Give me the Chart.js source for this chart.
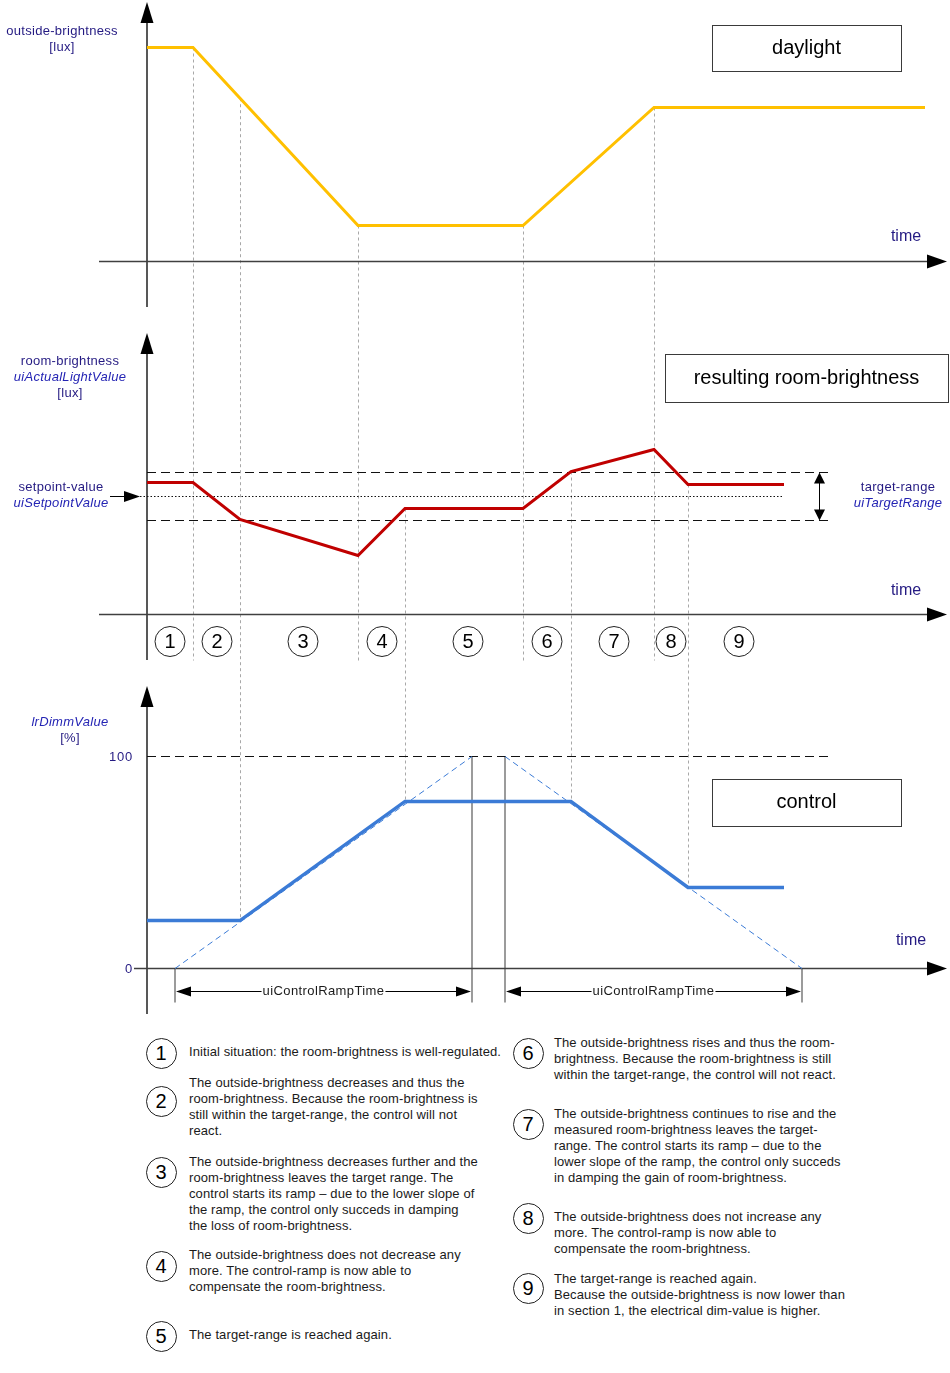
<!DOCTYPE html>
<html><head><meta charset="utf-8">
<script src="https://cdn.jsdelivr.net/npm/chart.js@4.4.0/dist/chart.umd.min.js"></script>
<style>
html,body{margin:0;padding:0;background:#fff;}
body{width:950px;height:1373px;position:relative;overflow:hidden;font-family:"Liberation Sans",Arial,sans-serif;}
#c{position:absolute;left:0;top:0;}
.num{position:absolute;width:31px;height:31px;box-sizing:border-box;border:1px solid #222;border-radius:50%;text-align:center;line-height:29px;font-size:20px;color:#000;}
.txt{position:absolute;font-size:13px;line-height:16px;color:#1a1a1a;white-space:nowrap;letter-spacing:0.1px;}
</style></head><body>
<canvas id="c" width="950" height="1020"></canvas>
<div id="notes"></div>
<script>
// ---------------- data ----------------
const outsideT   = [0, 46, 211, 376, 507, 778];
const outsideLux = [214, 214, 36, 36, 154, 154];
const roomT      = [0, 46, 93, 211, 258, 376, 424, 507, 541, 637];
const roomLux    = [132, 132, 95, 59, 106, 106, 143, 165, 130, 130];
const controlT   = [0, 93, 258, 424, 541, 637];
const controlPct = [22.6, 22.6, 78.8, 78.8, 38.2, 38.2];
const rampUpT    = [28, 325];
const rampUpPct  = [0, 100];
const rampDownT  = [358, 655];
const rampDownPct= [100, 0];
const setpointLux = 118;
const targetRangeLux = [94, 142];
const rangeEndT = 684;
const dimTicks = [0, 100];
const sectionBounds = [46, 93, 211, 258, 376, 424, 507, 541];
const sectionLabels = ['1','2','3','4','5','6','7','8','9'];
const sectionLabelT = [23, 70, 156, 235, 321, 400, 467, 524, 592];
const noteLines = [
  ['Initial situation: the room-brightness is well-regulated.'],
  ['The outside-brightness decreases and thus the','room-brightness. Because the room-brightness is','still within the target-range, the control will not','react.'],
  ['The outside-brightness decreases further and the','room-brightness leaves the target range. The','control starts its ramp \u2013 due to the lower slope of','the ramp, the control only succeds in damping','the loss of room-brightness.'],
  ['The outside-brightness does not decrease any','more. The control-ramp is now able to','compensate the room-brightness.'],
  ['The target-range is reached again.'],
  ['The outside-brightness rises and thus the room-','brightness. Because the room-brightness is still','within the target-range, the control will not react.'],
  ['The outside-brightness continues to rise and the','measured room-brightness leaves the target-','range. The control starts its ramp \u2013 due to the','lower slope of the ramp, the control only succeds','in damping the gain of room-brightness.'],
  ['The outside-brightness does not increase any','more. The control-ramp is now able to','compensate the room-brightness.'],
  ['The target-range is reached again.','Because the outside-brightness is now lower than','in section 1, the electrical dim-value is higher.']
];

// ---------------- layout ----------------
const H = 1020;
function yRange(zeroPx, pxPerUnit){ return {min: -(H - zeroPx) / pxPerUnit, max: zeroPx / pxPerUnit}; }
const rOut = yRange(261.5, 1), rRoom = yRange(614.5, 1), rCtl = yRange(968.5, 2.12);
const pts = (ts, vs) => ts.map((t, i) => ({x: t, y: vs[i]}));
function interp(ts, vs, t){
  for (let i = 0; i < ts.length - 1; i++) {
    if (t >= ts[i] && t <= ts[i+1]) return vs[i] + (vs[i+1]-vs[i]) * (t-ts[i]) / (ts[i+1]-ts[i]);
  }
  return vs[vs.length-1];
}
const NAVY = '#241a82', BLUE_IT = '#2424b4';
const FONT = '"Liberation Sans", Arial, sans-serif';

function arrowHead(ctx, tx, ty, dx, dy, len, hw){
  const bx = tx - dx*len, by = ty - dy*len;
  ctx.beginPath();
  ctx.moveTo(tx, ty);
  ctx.lineTo(bx - dy*hw, by + dx*hw);
  ctx.lineTo(bx + dy*hw, by - dx*hw);
  ctx.closePath(); ctx.fill();
}
function line(ctx, x1, y1, x2, y2){ ctx.beginPath(); ctx.moveTo(x1,y1); ctx.lineTo(x2,y2); ctx.stroke(); }
function txt(ctx, s, x, y, font, color, align, spacing){
  ctx.font = font; ctx.fillStyle = color; ctx.textAlign = align || 'center'; ctx.textBaseline = 'middle';
  ctx.letterSpacing = spacing || '0.3px';
  ctx.fillText(s, x, y);
  ctx.letterSpacing = '0px';
}
function box(ctx, x1, y1, x2, y2, label){
  ctx.save();
  ctx.fillStyle = '#fff'; ctx.fillRect(x1, y1, x2-x1, y2-y1);
  ctx.strokeStyle = '#3a3a3a'; ctx.lineWidth = 1; ctx.setLineDash([]);
  ctx.strokeRect(x1+0.5, y1+0.5, x2-x1, y2-y1);
  txt(ctx, label, (x1+x2)/2, (y1+y2)/2, '20px ' + FONT, '#000', 'center', '0px');
  ctx.restore();
}
function circ(ctx, cx, cy, label){
  ctx.save(); ctx.strokeStyle = '#222'; ctx.lineWidth = 1; ctx.setLineDash([]);
  ctx.beginPath(); ctx.arc(cx, cy, 15, 0, Math.PI*2); ctx.stroke();
  txt(ctx, label, cx, cy+1, '20px ' + FONT, '#000', 'center', '0px');
  ctx.restore();
}

const boundTop = ['o','o','o','r','o','r','o','r'];

const deco = {
  id: 'deco',
  beforeDatasetsDraw(chart){
    const ctx = chart.ctx, X = chart.scales.x, yO = chart.scales.yOut, yR = chart.scales.yRoom, yC = chart.scales.yCtl;
    ctx.save();
    // section boundaries (grey dotted)
    ctx.strokeStyle = '#a8a8a8'; ctx.lineWidth = 1; ctx.setLineDash([3,3]);
    sectionBounds.forEach((t, i) => {
      const px = Math.round(X.getPixelForValue(t)) + 0.5;
      const top = boundTop[i] === 'o' ? yO.getPixelForValue(interp(outsideT, outsideLux, t))
                                        : yR.getPixelForValue(interp(roomT, roomLux, t));
      const bottom = controlT.includes(t) ? yC.getPixelForValue(interp(controlT, controlPct, t))
                                           : yR.getPixelForValue(0) + 46;
      line(ctx, px, top, px, bottom);
    });
    ctx.setLineDash([]);
    // ramp markers
    ctx.strokeStyle = '#7a7a7a'; ctx.lineWidth = 1.5;
    const zc = yC.getPixelForValue(0);
    [[rampUpT[0], rampUpPct[0]], [rampUpT[1], rampUpPct[1]], [rampDownT[0], rampDownPct[0]], [rampDownT[1], rampDownPct[1]]].forEach(([t, v]) => {
      const px = X.getPixelForValue(t);
      line(ctx, px, yC.getPixelForValue(v), px, zc + 34);
    });
    // axes
    const ax = X.getPixelForValue(0);
    [[yO, 259, -48], [yR, 281, -48], [yC, 282, -13]].forEach(([sc, up, xStart]) => {
      const z = Math.floor(sc.getPixelForValue(0));
      ctx.strokeStyle = '#111'; ctx.fillStyle = '#000'; ctx.lineWidth = 1.4;
      line(ctx, ax, z - up + 10, ax, z + 46);
      arrowHead(ctx, ax, z - up, 0, -1, 21, 6.5);
      ctx.strokeStyle = '#404040';
      line(ctx, X.getPixelForValue(xStart), z + 0.5, X.getPixelForValue(800) - 10, z + 0.5);
      ctx.fillStyle = '#000';
      arrowHead(ctx, X.getPixelForValue(800), z + 0.5, 1, 0, 20, 7);
    });
    ctx.restore();
  },
  afterDatasetsDraw(chart){
    const ctx = chart.ctx, X = chart.scales.x, yO = chart.scales.yOut, yR = chart.scales.yRoom, yC = chart.scales.yCtl;
    ctx.save();
    const f13 = '13px ' + FONT, i13 = 'italic 13px ' + FONT;
    // panel 1 labels
    txt(ctx, 'outside-brightness', 62, 31, f13, NAVY);
    txt(ctx, '[lux]', 62, 47, f13, NAVY);
    txt(ctx, 'time', 906, yO.getPixelForValue(0) - 25, '16px ' + FONT, NAVY, 'center', '0px');
    box(ctx, 712, 25, 901, 71, 'daylight');
    // panel 2 labels
    txt(ctx, 'room-brightness', 70, 361, f13, NAVY);
    txt(ctx, 'uiActualLightValue', 70, 377, i13, BLUE_IT);
    txt(ctx, '[lux]', 70, 393, f13, NAVY);
    txt(ctx, 'time', 906, yR.getPixelForValue(0) - 24, '16px ' + FONT, NAVY, 'center', '0px');
    box(ctx, 665, 354, 948, 402, 'resulting room-brightness');
    const ys = Math.floor(yR.getPixelForValue(setpointLux)) + 0.5;
    txt(ctx, 'setpoint-value', 61, ys - 9, f13, NAVY);
    txt(ctx, 'uiSetpointValue', 61, ys + 7, i13, BLUE_IT);
    ctx.strokeStyle = '#000'; ctx.fillStyle = '#000'; ctx.lineWidth = 1; ctx.setLineDash([]);
    const sx = X.getPixelForValue(-7);
    line(ctx, 110, ys, sx - 12, ys);
    arrowHead(ctx, sx, ys, 1, 0, 16, 5.5);
    const ty1 = yR.getPixelForValue(targetRangeLux[1]), ty0 = yR.getPixelForValue(targetRangeLux[0]);
    const tx = Math.round(X.getPixelForValue(672)) + 0.5;
    line(ctx, tx, ty1 + 8, tx, ty0 - 8);
    arrowHead(ctx, tx, ty1, 0, -1, 11, 5.5);
    arrowHead(ctx, tx, ty0, 0, 1, 11, 5.5);
    const tyMid = (ty0 + ty1) / 2;
    txt(ctx, 'target-range', 898, tyMid - 9, f13, NAVY);
    txt(ctx, 'uiTargetRange', 898, tyMid + 7, i13, BLUE_IT);
    // section circles
    const cy = yR.getPixelForValue(0) + 27;
    sectionLabels.forEach((s, i) => circ(ctx, X.getPixelForValue(sectionLabelT[i]), cy, s));
    // panel 3 labels
    txt(ctx, 'lrDimmValue', 70, 722, i13, BLUE_IT);
    txt(ctx, '[%]', 70, 738, f13, NAVY);
    dimTicks.forEach(v => txt(ctx, String(v), 133, yC.getPixelForValue(v) + 1, f13, NAVY, 'right', '0.8px'));
    txt(ctx, 'time', 911, yC.getPixelForValue(0) - 28, '16px ' + FONT, NAVY, 'center', '0px');
    box(ctx, 712, 779, 901, 826, 'control');
    // ramp time arrows
    const ay = Math.floor(yC.getPixelForValue(0)) + 23.5;
    [[rampUpT[0], rampUpT[1]], [rampDownT[0], rampDownT[1]]].forEach(([a, b]) => {
      const x1 = X.getPixelForValue(a) + 1, x2 = X.getPixelForValue(b) - 1;
      ctx.strokeStyle = '#000'; ctx.fillStyle = '#000'; ctx.lineWidth = 1;
      line(ctx, x1 + 10, ay, x2 - 10, ay);
      arrowHead(ctx, x1, ay, -1, 0, 15, 5);
      arrowHead(ctx, x2, ay, 1, 0, 15, 5);
      ctx.font = f13; ctx.letterSpacing = '0.4px';
      const w = ctx.measureText('uiControlRampTime').width;
      ctx.letterSpacing = '0px';
      ctx.fillStyle = '#fff'; ctx.fillRect((x1+x2)/2 - w/2 - 1, ay - 8, w + 2, 16);
      txt(ctx, 'uiControlRampTime', (x1+x2)/2, ay, f13, '#1a1a1a', 'center', '0.4px');
    });
    ctx.restore();
  }
};

const common = {pointRadius: 0, tension: 0, fill: false};
new Chart(document.getElementById('c'), {
  type: 'line',
  data: {
    datasets: [
      {...common, label: 'outside-brightness', data: pts(outsideT, outsideLux), yAxisID: 'yOut', borderColor: '#ffc000', borderWidth: 3, order: 0},
      {...common, label: 'room-brightness', data: pts(roomT, roomLux), yAxisID: 'yRoom', borderColor: '#c00000', borderWidth: 3, order: 0},
      {...common, label: 'lrDimmValue', data: pts(controlT, controlPct), yAxisID: 'yCtl', borderColor: '#3b7bd6', borderWidth: 3.5, order: 0},
      {...common, label: 'ramp up', data: pts(rampUpT, rampUpPct), yAxisID: 'yCtl', borderColor: '#3b7bd6', borderWidth: 1, borderDash: [6,4], order: 1},
      {...common, label: 'ramp down', data: pts(rampDownT, rampDownPct), yAxisID: 'yCtl', borderColor: '#3b7bd6', borderWidth: 1, borderDash: [6,4], order: 1},
      {...common, label: 'target max', data: pts([0, rangeEndT], [targetRangeLux[1], targetRangeLux[1]]), yAxisID: 'yRoom', borderColor: '#111', borderWidth: 1, borderDash: [9,5], order: 2},
      {...common, label: 'target min', data: pts([0, rangeEndT], [targetRangeLux[0], targetRangeLux[0]]), yAxisID: 'yRoom', borderColor: '#111', borderWidth: 1, borderDash: [9,5], order: 2},
      {...common, label: 'setpoint', data: pts([-7, roomT[roomT.length-1]], [setpointLux, setpointLux]), yAxisID: 'yRoom', borderColor: '#111', borderWidth: 1, borderDash: [1.5,2], order: 2},
      {...common, label: '100 %', data: pts([0, rangeEndT], [dimTicks[1], dimTicks[1]]), yAxisID: 'yCtl', borderColor: '#111', borderWidth: 1, borderDash: [9,5], order: 2}
    ]
  },
  options: {
    responsive: false, animation: false, devicePixelRatio: 1,
    layout: {padding: 0},
    plugins: {legend: {display: false}, tooltip: {enabled: false}},
    scales: {
      x: {type: 'linear', min: -147, max: 803, display: false},
      yOut: {type: 'linear', min: rOut.min, max: rOut.max, display: false},
      yRoom: {type: 'linear', min: rRoom.min, max: rRoom.max, display: false},
      yCtl: {type: 'linear', min: rCtl.min, max: rCtl.max, display: false}
    }
  },
  plugins: [deco]
});

// ---------------- notes ----------------
const noteCircle = [[161,1053],[161,1101],[161,1172],[161,1266],[161,1336],[528,1053],[528,1124],[528,1218],[528,1288]];
const noteFirstLine = [1052,1083,1162,1255,1335,1043,1114,1217,1279];
const notes = document.getElementById('notes');
noteLines.forEach((lines, i) => {
  const [cx, cy] = noteCircle[i];
  const c = document.createElement('div');
  c.className = 'num'; c.textContent = sectionLabels[i];
  c.style.left = (cx - 15.5) + 'px'; c.style.top = (cy - 15.5) + 'px';
  notes.appendChild(c);
  const t = document.createElement('div');
  t.className = 'txt';
  t.style.left = (cx + 28 - (i >= 5 ? 2 : 0)) + 'px';
  t.style.top = (noteFirstLine[i] - 8) + 'px';
  t.innerHTML = lines.join('<br>');
  notes.appendChild(t);
});
</script>
</body></html>
